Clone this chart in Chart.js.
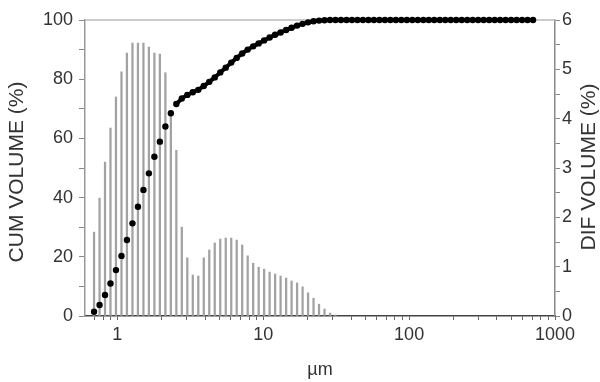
<!DOCTYPE html>
<html>
<head>
<meta charset="utf-8">
<script src="https://cdn.jsdelivr.net/npm/chart.js@4"></script>
<style>
  html, body { margin: 0; padding: 0; background: #fff; }
  #wrap { width: 600px; height: 382px; }
</style>
</head>
<body>
<div id="wrap"><canvas id="grafico" width="600" height="382"></canvas></div>
<script>
// channel sizes (µm)
const sizes = [0.692, 0.755, 0.823, 0.897, 0.978, 1.067, 1.163, 1.269, 1.384, 1.509,
  1.645, 1.794, 1.956, 2.134, 2.326, 2.537, 2.766, 3.016, 3.289, 3.587,
  3.911, 4.266, 4.651, 5.074, 5.533, 6.033, 6.578, 7.173, 7.823, 8.531,
  9.302, 10.14, 11.06, 12.06, 13.15, 14.35, 15.64, 17.06, 18.61, 20.29,
  22.12, 24.12, 26.30, 28.69, 31.28, 34.11, 37.20, 40.56, 44.24, 48.24,
  52.60, 57.36, 62.55, 68.22, 74.38, 81.11, 88.45, 96.45, 105.2, 114.7,
  125.1, 136.4, 148.7, 162.3, 176.9, 192.9, 210.3, 229.4, 250.2, 272.8,
  297.5, 324.4, 353.7, 385.8, 420.7, 458.7, 500.2, 545.5, 594.9, 648.6, 707.3];

// DIF VOLUME (%) per channel (remaining channels are empty)
const difVolume = [1.70, 2.39, 3.12, 3.81, 4.44, 4.95, 5.33, 5.53, 5.53, 5.53,
  5.45, 5.33, 5.31, 4.93, 4.10, 3.36, 1.80, 1.18, 0.83, 0.81,
  1.18, 1.34, 1.48, 1.56, 1.58, 1.58, 1.54, 1.44, 1.22, 1.07,
  0.99, 0.95, 0.89, 0.85, 0.81, 0.77, 0.71, 0.67, 0.59, 0.47,
  0.36, 0.24, 0.14, 0.06, 0.02];

// CUM VOLUME (%) per channel
const cumVolume = [1.45, 3.7, 7.1, 11.0, 15.5, 20.3, 25.7, 31.3, 36.9, 42.6,
  48.2, 53.8, 58.9, 64.0, 68.5, 71.6, 73.5, 74.7, 75.6, 76.4,
  77.7, 79.1, 80.6, 82.3, 83.9, 85.6, 87.2, 88.7, 90.0, 91.1,
  92.1, 93.1, 94.1, 95.0, 95.8, 96.6, 97.4, 98.1, 98.7, 99.2,
  99.6, 99.8, 99.9, 100, 100, 100, 100, 100, 100, 100,
  100, 100, 100, 100, 100, 100, 100, 100, 100, 100,
  100, 100, 100, 100, 100, 100, 100, 100, 100, 100,
  100, 100, 100, 100, 100, 100, 100, 100, 100, 100, 100];

const xTickLabels = [1, 10, 100, 1000];
const xMinorTicks = [0.7, 0.8, 0.9, 2, 3, 4, 5, 6, 7, 8, 9, 20, 30, 40, 50, 60, 70, 80, 90,
  200, 300, 400, 500, 600, 700, 800, 900];
const cumTickLabels = [0, 20, 40, 60, 80, 100];
const difTickLabels = [0, 1, 2, 3, 4, 5, 6];

const fonte = 'Liberation Sans, Arial, sans-serif';
const corTexto = '#333';

// titles and top frame line
const extras = {
  id: 'extras',
  beforeDatasetsDraw(chart) {
    const { ctx, chartArea } = chart;
    ctx.save();
    ctx.strokeStyle = '#bbb';
    ctx.lineWidth = 1.5;
    ctx.beginPath();
    ctx.moveTo(chartArea.left, chartArea.top);
    ctx.lineTo(chartArea.right, chartArea.top);
    ctx.stroke();
    ctx.restore();
  },
  afterDraw(chart) {
    const { ctx, chartArea } = chart;
    ctx.save();
    ctx.fillStyle = corTexto;
    ctx.textAlign = 'center';
    ctx.textBaseline = 'middle';
    ctx.font = '21px ' + fonte;
    ctx.translate(17, 172);
    ctx.rotate(-Math.PI / 2);
    ctx.fillText('CUM VOLUME (%)', 0, 0);
    ctx.restore();

    ctx.save();
    ctx.fillStyle = corTexto;
    ctx.textAlign = 'center';
    ctx.textBaseline = 'middle';
    ctx.font = '21px ' + fonte;
    ctx.translate(589, 167);
    ctx.rotate(-Math.PI / 2);
    ctx.fillText('DIF VOLUME (%)', 0, 0);
    ctx.restore();

    ctx.save();
    ctx.fillStyle = corTexto;
    ctx.textAlign = 'center';
    ctx.textBaseline = 'middle';
    ctx.font = '18px ' + fonte;
    ctx.fillText('µm', (chartArea.left + chartArea.right) / 2, 370);
    ctx.restore();
  }
};

const difData = difVolume.map((v, i) => ({ x: sizes[i], y: v }));
const cumData = cumVolume.map((v, i) => ({ x: sizes[i], y: v }));

new Chart(document.getElementById('grafico').getContext('2d'), {
  type: 'line',
  data: {
    datasets: [
      {
        type: 'line',
        label: 'CUM',
        data: cumData,
        yAxisID: 'y',
        showLine: true,
        borderWidth: 4,
        borderColor: '#000',
        // markers merge into a thick line where the curve is flat; steep part stays as dots
        segment: {
          borderColor: c => Math.abs(c.p1.parsed.y - c.p0.parsed.y) > 2 ? 'rgba(0,0,0,0)' : '#000'
        },
        pointStyle: 'circle',
        pointRadius: 3.2,
        pointBackgroundColor: '#000',
        pointBorderColor: '#000',
        pointBorderWidth: 0,
        clip: false,
        order: 0
      },
      {
        type: 'bar',
        label: 'DIF',
        data: difData,
        yAxisID: 'y2',
        backgroundColor: '#a2a2a2',
        barThickness: 1.6,
        order: 1
      }
    ]
  },
  options: {
    responsive: false,
    animation: false,
    devicePixelRatio: 1,
    layout: { padding: { top: 20, left: 0, right: 0, bottom: 0 } },
    plugins: { legend: { display: false }, tooltip: { enabled: false } },
    scales: {
      x: {
        type: 'logarithmic',
        min: 0.63,
        max: 1000,
        offset: false,
        afterBuildTicks: s => {
          s.ticks = xTickLabels.concat(xMinorTicks).sort((a, b) => a - b).map(v => ({ value: v }));
        },
        afterFit: s => { s.height = 66; },
        border: { color: '#444', width: 1.5 },
        grid: { drawOnChartArea: false, offset: false, color: '#666', tickLength: 4 },
        ticks: {
          autoSkip: false,
          maxRotation: 0,
          padding: 4,
          color: corTexto,
          font: { family: fonte, size: 18 },
          callback: v => xTickLabels.includes(v) ? String(v) : ''
        }
      },
      y: {
        position: 'left',
        min: 0,
        max: 100,
        afterFit: s => { s.width = 85; },
        border: { color: '#999', width: 1.5 },
        grid: { drawOnChartArea: false, color: '#888', tickLength: 6 },
        ticks: {
          stepSize: 10,
          padding: 6,
          color: corTexto,
          font: { family: fonte, size: 18 },
          callback: v => cumTickLabels.includes(v) ? String(v) : ''
        }
      },
      y2: {
        position: 'right',
        min: 0,
        max: 6,
        afterFit: s => { s.width = 45; },
        border: { color: '#888', width: 1.5 },
        grid: { drawOnChartArea: false, color: '#888', tickLength: 5 },
        ticks: {
          stepSize: 0.5,
          padding: 2,
          color: corTexto,
          font: { family: fonte, size: 18 },
          callback: v => difTickLabels.includes(v) ? String(v) : ''
        }
      }
    }
  },
  plugins: [extras]
});
</script>
</body>
</html>
